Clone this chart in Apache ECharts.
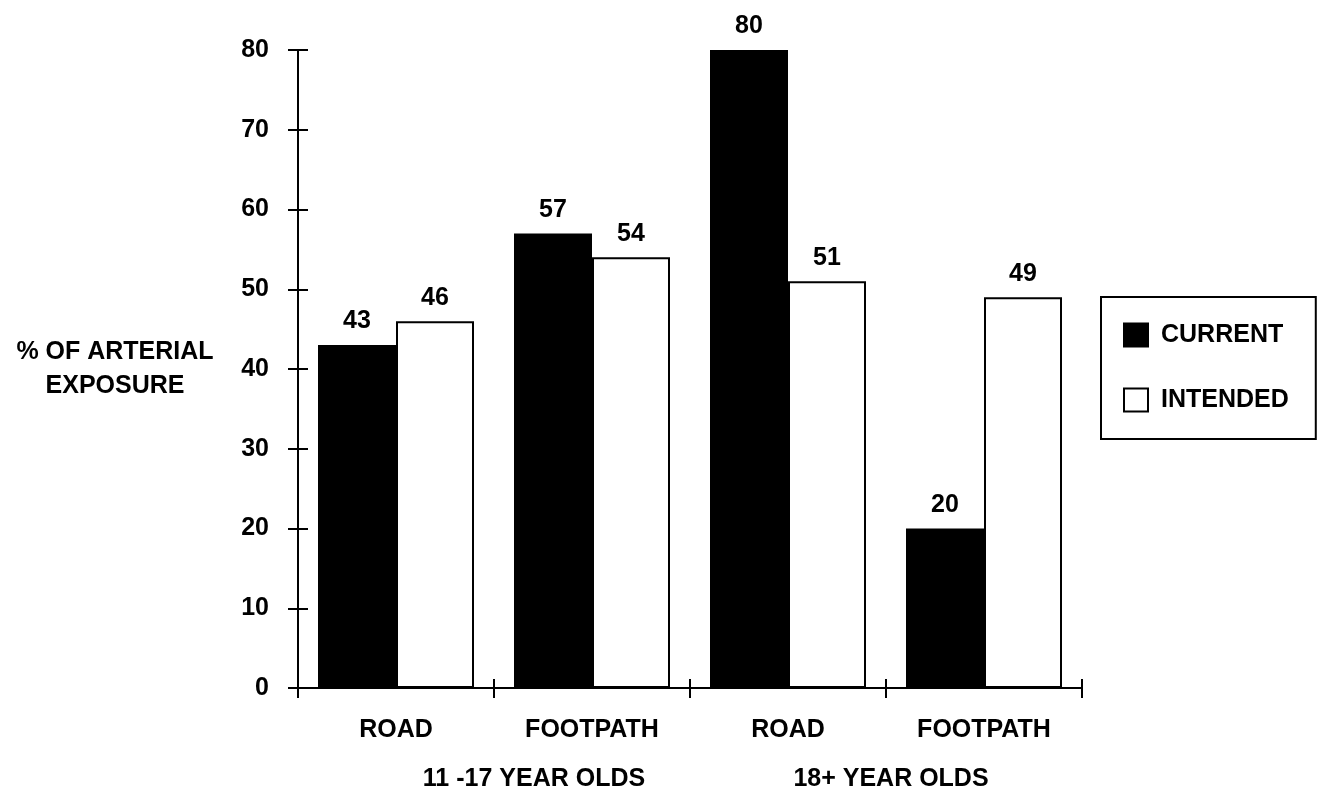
<!DOCTYPE html>
<html>
<head>
<meta charset="utf-8">
<script src="https://cdn.jsdelivr.net/npm/echarts@6/dist/echarts.min.js"></script>
<style>
html,body{margin:0;padding:0;background:#fff;}
#chart{width:1322px;height:793px;}
</style>
</head>
<body>
<div id="chart"></div>
<script>
const categories = ['ROAD', 'FOOTPATH', 'ROAD ', 'FOOTPATH '];
const groupLabels = ['11 -17 YEAR OLDS', '18+ YEAR OLDS'];
const currentValues = [43, 57, 80, 20];
const intendedValues = [46, 54, 51, 49];
const yTicks = { min: 0, max: 80, interval: 10 };
const yAxisName = '% OF ARTERIAL\nEXPOSURE';

const FONT = '"Liberation Sans", Arial, sans-serif';
const txt = { fontFamily: FONT, fontWeight: 'bold', fontSize: 25, color: '#000' };

const chart = echarts.init(document.getElementById('chart'), null, { renderer: 'canvas' });

const option = {
  backgroundColor: '#fff',
  animation: false,
  grid: { left: 298, right: 240, top: 50, bottom: 105, containLabel: false },
  legend: {
    orient: 'vertical',
    left: 1101,
    top: 297,
    padding: [24, 27, 25, 22],
    itemWidth: 24,
    itemHeight: 23,
    itemGap: 37,
    borderColor: '#000',
    borderWidth: 2,
    icon: 'rect',
    textStyle: Object.assign({}, txt, { padding: [0, 0, 0, 8], lineHeight: 28 }),
    data: [
      { name: 'CURRENT', itemStyle: { color: '#000', borderColor: '#000', borderWidth: 2 } },
      { name: 'INTENDED', itemStyle: { color: '#fff', borderColor: '#000', borderWidth: 2 } }
    ]
  },
  xAxis: [
    {
      type: 'category',
      position: 'bottom',
      data: categories,
      axisLine: { show: true, lineStyle: { color: '#000', width: 2 } },
      axisTick: { show: true, inside: false, length: 10, lineStyle: { color: '#000', width: 2 } },
      axisLabel: Object.assign({}, txt, { margin: 30, formatter: v => v.trim() }),
      splitLine: { show: false }
    },
    {
      type: 'category',
      position: 'bottom',
      offset: 0,
      data: categories,
      axisLine: { show: false },
      axisTick: { show: true, inside: true, length: 9, lineStyle: { color: '#000', width: 2 } },
      axisLabel: { show: false },
      splitLine: { show: false }
    }
  ],
  yAxis: [
    {
      type: 'value',
      position: 'left',
      min: yTicks.min, max: yTicks.max, interval: yTicks.interval,
      name: yAxisName,
      nameLocation: 'middle',
      nameRotate: 0,
      nameGap: 183,
      nameTextStyle: Object.assign({}, txt, { align: 'center', lineHeight: 34 }),
      axisLine: { show: true, lineStyle: { color: '#000', width: 2 } },
      axisTick: { show: true, inside: false, length: 10, lineStyle: { color: '#000', width: 2 } },
      axisLabel: Object.assign({}, txt, { margin: 29 }),
      splitLine: { show: false }
    },
    {
      type: 'value',
      position: 'left',
      offset: 0,
      min: yTicks.min, max: yTicks.max, interval: yTicks.interval,
      axisLine: { show: false },
      axisTick: { show: true, inside: true, length: 10, lineStyle: { color: '#000', width: 2 } },
      axisLabel: { show: false },
      splitLine: { show: false }
    }
  ],
  series: [
    {
      name: 'CURRENT',
      type: 'bar',
      xAxisIndex: 0, yAxisIndex: 0,
      data: currentValues,
      barWidth: 78,
      barGap: '0%',
      itemStyle: { color: '#000', borderColor: '#000', borderWidth: 2 },
      label: Object.assign({ show: true, position: 'top', distance: 11 }, txt)
    },
    {
      name: 'INTENDED',
      type: 'bar',
      xAxisIndex: 0, yAxisIndex: 0,
      data: intendedValues,
      barWidth: 78,
      barGap: '0%',
      itemStyle: { color: '#fff', borderColor: '#000', borderWidth: 2 },
      label: Object.assign({ show: true, position: 'top', distance: 11 }, txt)
    }
  ],
  graphic: [
    { type: 'text', x: 534, y: 779, style: { text: groupLabels[0], align: 'center', verticalAlign: 'middle', fill: '#000', font: 'bold 25px ' + FONT } },
    { type: 'text', x: 891, y: 779, style: { text: groupLabels[1], align: 'center', verticalAlign: 'middle', fill: '#000', font: 'bold 25px ' + FONT } }
  ]
};
chart.setOption(option);
</script>
</body>
</html>
